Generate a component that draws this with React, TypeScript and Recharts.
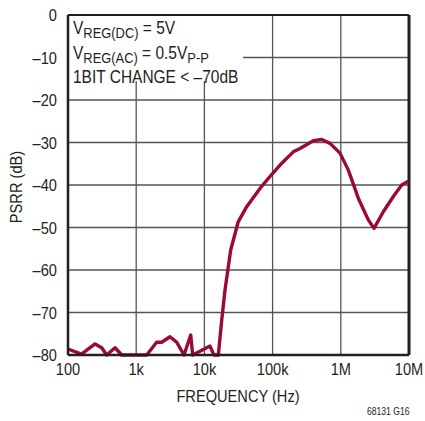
import { CartesianGrid, Line, LineChart, ReferenceArea, ReferenceLine, XAxis, YAxis } from "recharts";

const freqHz = [
  100, 158, 249, 312, 369, 489, 612, 1426, 1995, 2365, 3130, 3930, 5020, 6300, 6730, 12080,
  13830, 16000, 17950, 20050, 24300, 31400, 41700, 65300, 91500, 128500, 201000, 252000,
  395000, 525000, 695000, 973000, 1290000, 1806000, 2530000, 3070000, 4200000, 5890000,
  7820000, 9770000,
];
const psrrDb = [
  -78.6, -79.8, -77.4, -78.3, -80, -78.3, -80, -80, -77, -77, -75.7, -77, -80, -75.3, -80, -77.9,
  -80, -80, -71.8, -64.7, -55.3, -48.6, -45.1, -40.8, -38.0, -35.3, -32.2, -31.4,
  -29.6, -29.3, -30.2, -32.5, -36.5, -43.1, -48.2, -50.2, -46.3, -42.7,
  -40.0, -39.1,
];
const xTicks = [100, 1000, 10000, 100000, 1000000, 10000000];
const xTickLabels = ["100", "1k", "10k", "100k", "1M", "10M"];
const yTicks = [-80, -70, -60, -50, -40, -30, -20, -10, 0];

const data = freqHz.map((f, i) => ({ f, db: psrrDb[i] }));

const FONT = "'Liberation Sans', Arial, sans-serif";
const INK = "#231f20";
const CURVE = "#9a0a32";
const GRID = "#555";
const SQUEEZE = 0.86;

function XTick({ x, y, payload }: any) {
  const label = xTickLabels[xTicks.indexOf(payload.value)] ?? "";
  return (
    <g transform={`translate(${x},${y + 18}) scale(${SQUEEZE},1)`}>
      <text textAnchor="middle" fill={INK} fontSize={17} fontFamily={FONT}>
        {label}
      </text>
    </g>
  );
}

function YTick({ x, y, payload }: any) {
  const v = payload.value as number;
  const label = v < 0 ? `\u2013${Math.abs(v)}` : `${v}`;
  return (
    <g transform={`translate(${x - 1},${y + 6}) scale(${SQUEEZE},1)`}>
      <text textAnchor="end" fill={INK} fontSize={17} fontFamily={FONT}>
        {label}
      </text>
    </g>
  );
}

const sub = { fontSize: 15, verticalAlign: "-4px" } as const;

export default function App() {
  return (
    <div style={{ position: "absolute", left: 0, top: 0, width: 425, height: 421, background: "#fff", fontFamily: FONT }}>
      <LineChart width={425} height={421} data={data} margin={{ top: 15, right: 16, bottom: 36, left: 8 }}>
        <CartesianGrid stroke={GRID} strokeWidth={1.3} horizontalValues={yTicks} verticalValues={xTicks} />
        <ReferenceArea x1={100} x2={36800} y1={-15.5} y2={0} fill="#fff" fillOpacity={1} stroke="none" />
        <XAxis
          dataKey="f"
          type="number"
          scale="log"
          domain={[100, 10000000]}
          ticks={xTicks}
          tick={<XTick />}
          tickLine={false}
          tickSize={0}
          axisLine={{ stroke: INK, strokeWidth: 2.5 }}
          height={30}
          interval={0}
          allowDataOverflow
        />
        <YAxis
          type="number"
          domain={[-80, 0]}
          ticks={yTicks}
          tick={<YTick />}
          tickLine={false}
          tickSize={0}
          tickMargin={10}
          axisLine={{ stroke: INK, strokeWidth: 2.5 }}
          width={60}
          interval={0}
        />
        <ReferenceLine y={0} stroke={INK} strokeWidth={2} />
        <ReferenceLine x={10000000} stroke={INK} strokeWidth={3} />
        <Line
          type="linear"
          dataKey="db"
          stroke={CURVE}
          strokeWidth={3.4}
          strokeLinejoin="round"
          dot={false}
          isAnimationActive={false}
        />
      </LineChart>
      <div
        style={{
          position: "absolute",
          left: 73,
          top: 18,
          fontSize: 18,
          lineHeight: "20px",
          color: INK,
          whiteSpace: "nowrap",
          transform: `scaleX(${SQUEEZE})`,
          transformOrigin: "left top",
        }}
      >
        <div>
          V<sub style={sub}>REG(DC)</sub> = 5V
        </div>
        <div>
          V<sub style={sub}>REG(AC)</sub> = 0.5V<sub style={sub}>P-P</sub>
        </div>
        <div style={{ marginTop: -1 }}>1BIT CHANGE &lt; &ndash;70dB</div>
      </div>
      <div
        style={{
          position: "absolute",
          left: 17,
          top: 187,
          transform: `translate(-50%, -50%) rotate(-90deg) scaleX(${SQUEEZE})`,
          fontSize: 17,
          color: INK,
          whiteSpace: "nowrap",
        }}
      >
        PSRR (dB)
      </div>
      <div
        style={{
          position: "absolute",
          left: 238,
          top: 397,
          transform: `translate(-50%, -50%) scaleX(${SQUEEZE})`,
          fontSize: 17,
          color: INK,
          whiteSpace: "nowrap",
        }}
      >
        FREQUENCY (Hz)
      </div>
      <div
        style={{
          position: "absolute",
          right: 16,
          top: 406,
          fontSize: 10,
          color: INK,
          whiteSpace: "nowrap",
          transform: `scaleX(${SQUEEZE})`,
          transformOrigin: "right top",
        }}
      >
        68131 G16
      </div>
    </div>
  );
}
